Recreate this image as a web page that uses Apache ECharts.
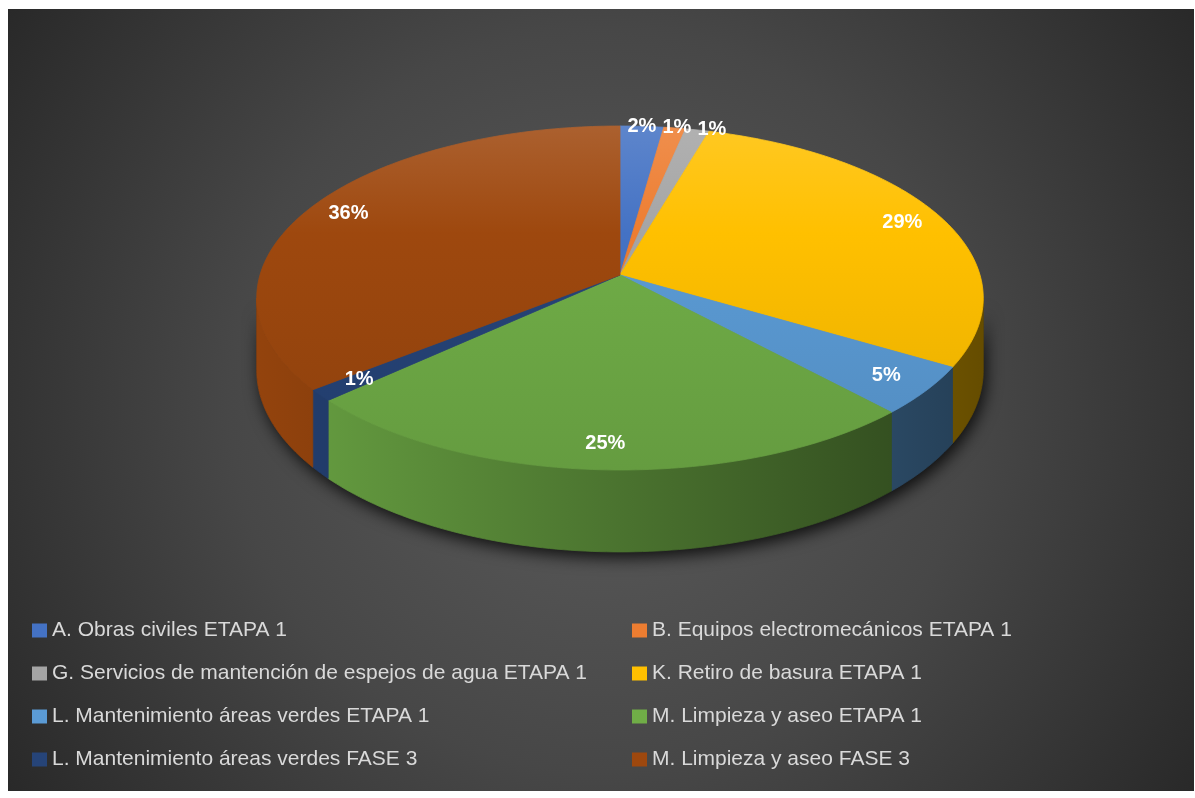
<!DOCTYPE html>
<html>
<head>
<meta charset="utf-8">
<script src="https://cdn.jsdelivr.net/npm/echarts@6/dist/echarts.min.js"></script>
<style>
    html, body { margin: 0; background: #fff; }
    #chart { position: absolute; left: 8px; top: 9px; width: 1186px; height: 782px; }
</style>
</head>
<body>
<div id="chart"></div>
<script>
    // categorías (orden horario desde las 12)
    var categories = [
        'A. Obras civiles ETAPA 1',
        'B. Equipos electromecánicos ETAPA 1',
        'G. Servicios de mantención de espejos de agua ETAPA 1',
        'K. Retiro de basura ETAPA 1',
        'L. Mantenimiento áreas verdes ETAPA 1',
        'M. Limpieza y aseo ETAPA 1',
        'L. Mantenimiento áreas verdes FASE 3',
        'M. Limpieza y aseo FASE 3'
    ];
    // porcentaje de cada categoría
    var values = [2.2, 1.1, 1.2, 29.0, 4.6, 25.1, 1.1, 35.7];
    var colors = ['#4472C4', '#ED7D31', '#A5A5A5', '#FFC000', '#5B9BD5', '#70AD47', '#264478', '#9E480E'];
    // columnas de la leyenda
    var legendLeft = [categories[0], categories[2], categories[4], categories[6]];
    var legendRight = [categories[1], categories[3], categories[5], categories[7]];

    var FONT = '"Liberation Sans", Arial, sans-serif';

    // geometría del pastel 3D (coordenadas del contenedor)
    var pie = { cx: 612, cy: 266, rx: 360, ry: 168.9, depth: 71, k: 0.1337 };

    var total = values.reduce(function (a, b) { return a + b; }, 0);
    var starts = [];
    var acc = 0;
    values.forEach(function (v) {
        starts.push(acc / total * 2 * Math.PI);
        acc += v;
    });

    function proj(theta, r, dz) {
        var u = r * Math.sin(theta), v = r * Math.cos(theta);
        var s = 1 / (1 + pie.k * v);
        return [pie.cx + pie.rx * u * s, pie.cy - pie.ry * v * s + pie.depth * s * dz];
    }

    function arc(a0, a1, dz) {
        var n = Math.max(2, Math.ceil((a1 - a0) / (Math.PI / 180)));
        var pts = [];
        for (var j = 0; j <= n; j++) {
            pts.push(proj(a0 + (a1 - a0) * j / n, 1, dz));
        }
        return pts;
    }

    // zona visible de la pared exterior
    var ts = Math.acos(-pie.k), te = 2 * Math.PI - ts;

    function hexRgb(hex) {
        return [parseInt(hex.substr(1, 2), 16), parseInt(hex.substr(3, 2), 16), parseInt(hex.substr(5, 2), 16)];
    }
    function shade(hex, f) {
        var c = hexRgb(hex);
        return 'rgb(' + c.map(function (x) { return Math.round(x * f); }).join(',') + ')';
    }
    function tint(hex, f) {
        var c = hexRgb(hex);
        return 'rgb(' + c.map(function (x) { return Math.round(x + (255 - x) * f); }).join(',') + ')';
    }

    // posiciones de etiquetas (las pequeñas del fondo van al borde y se separan)
    var labelPos = [];
    var prevX = -Infinity;
    values.forEach(function (v, i) {
        var mid = starts[i] + v / total * Math.PI;
        var small = v / total < 0.03 && Math.cos(mid) > 0;
        var p = proj(mid, small ? 1 : 0.88, 0);
        if (small) {
            if (p[0] < prevX + 35) p[0] = prevX + 35;
            prevX = p[0];
        }
        labelPos.push(p);
    });

    function renderSlice(i) {
        return function (params, api) {
            var val = api.value(0);
            var a0 = starts[i], a1 = a0 + val / total * 2 * Math.PI;
            var color = colors[i];
            var children = [];

            if (i === 0) {
                // sombra bajo el pastel
                var front = arc(ts, te, 0).concat(arc(ts, te, 1).reverse());
                children.push({
                    type: 'polygon', z2: 0,
                    shape: { points: front },
                    style: { fill: '#111', shadowBlur: 16, shadowOffsetX: 3, shadowOffsetY: 6, shadowColor: 'rgba(0,0,0,0.8)' }
                });
            }

            var w0 = Math.max(a0, ts), w1 = Math.min(a1, te);
            if (w1 > w0) {
                var wallFill = new echarts.graphic.LinearGradient(pie.cx - pie.rx, 0, pie.cx + pie.rx, 0, [
                    { offset: 0, color: shade(color, 0.93) },
                    { offset: 1, color: shade(color, 0.4) }
                ], true);
                children.push({
                    type: 'polygon', z2: 1,
                    shape: { points: arc(w0, w1, 0).concat(arc(w0, w1, 1).reverse()) },
                    style: { fill: wallFill, stroke: wallFill, lineWidth: 0.8 }
                });
            }

            var topFill = new echarts.graphic.LinearGradient(0, pie.cy - pie.ry, 0, pie.cy + pie.ry * 1.15, [
                { offset: 0, color: tint(color, 0.16) },
                { offset: 0.35, color: color },
                { offset: 1, color: shade(color, 0.9) }
            ], true);
            children.push({
                type: 'polygon', z2: 10,
                shape: { points: [proj(0, 0, 0)].concat(arc(a0, a1, 0)) },
                style: { fill: topFill, stroke: topFill, lineWidth: 0.8 }
            });

            children.push({
                type: 'text', z2: 20,
                x: labelPos[i][0], y: labelPos[i][1],
                style: {
                    text: Math.round(val / total * 100) + '%',
                    fill: '#fff', fontSize: 20, fontWeight: 'bold', fontFamily: FONT,
                    align: 'center', verticalAlign: 'middle'
                }
            });
            return { type: 'group', children: children };
        };
    }

    var legendBase = {
        orient: 'vertical',
        top: 611,
        padding: 0,
        icon: 'rect',
        itemWidth: 15,
        itemHeight: 14,
        itemGap: 22,
        selectedMode: false,
        textStyle: { color: '#d9d9d9', fontSize: 21, fontFamily: FONT }
    };

    var chart = echarts.init(document.getElementById('chart'));
    chart.setOption({
        backgroundColor: new echarts.graphic.RadialGradient(0.5, 0.5, 0.95, [
            { offset: 0, color: '#5c5c5c' },
            { offset: 0.5, color: '#474747' },
            { offset: 1, color: '#262626' }
        ]),
        animation: false,
        legend: [
            Object.assign({}, legendBase, { left: 24, data: legendLeft }),
            Object.assign({}, legendBase, { left: 624, data: legendRight })
        ],
        series: categories.map(function (name, i) {
            return {
                type: 'custom',
                name: name,
                coordinateSystem: 'none',
                silent: true,
                itemStyle: { color: colors[i] },
                data: [values[i]],
                renderItem: renderSlice(i)
            };
        })
    });
</script>
</body>
</html>
